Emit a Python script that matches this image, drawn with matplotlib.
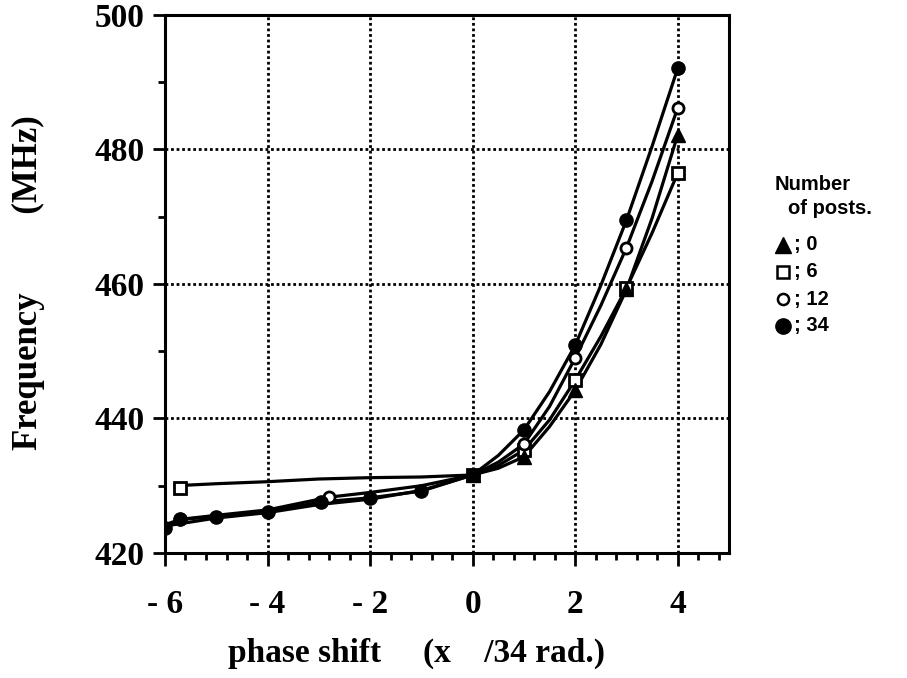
import numpy as np
import matplotlib.pyplot as plt
from matplotlib.ticker import MultipleLocator
from matplotlib.lines import Line2D

#== data ==#
# 34 posts (filled circles)
x_34 = [-6, -5.7, -5, -4, -2.95, -2, -1, 0, 1, 2, 3, 4]
y_34 = [423.7, 425.0, 425.4, 426.1, 427.6, 428.2, 429.2, 431.6, 438.3, 450.9, 469.5, 492.1]
cx_34 = [-6, -5.7, -5, -4, -2.95, -2, -1, 0, 0.5, 1, 1.5, 2, 2.5, 3, 3.5, 4]
cy_34 = [423.7, 425.0, 425.4, 426.1, 427.6, 428.2, 429.2, 431.6, 434.5, 438.3, 444.0, 450.9, 459.8, 469.5, 480.5, 492.1]

# 12 posts (open circles)
x_12 = [-5.7, -2.8, 0, 1, 2, 3, 4]
y_12 = [425.0, 428.3, 431.6, 436.2, 449.0, 465.4, 486.2]
cx_12 = [-6, -5.7, -5, -4, -2.8, -2, -1, 0, 0.5, 1, 1.5, 2, 2.5, 3, 3.5, 4]
cy_12 = [424.2, 425.0, 425.6, 426.4, 428.3, 429.0, 430.0, 431.6, 433.5, 436.2, 441.8, 449.0, 456.8, 465.4, 475.3, 486.2]

# 0 posts (filled triangles)
x_0 = [0, 1, 2, 3, 4]
y_0 = [431.6, 434.3, 444.2, 459.2, 482.2]
cx_0 = [-6, -5, -4, -3, -2, -1, 0, 0.5, 1, 1.5, 2, 2.5, 3, 3.5, 4]
cy_0 = [424.0, 425.2, 426.0, 427.2, 428.0, 429.3, 431.6, 432.6, 434.3, 438.8, 444.2, 451.0, 459.2, 469.8, 482.2]

# 6 posts (open squares)
x_6 = [-5.7, 0, 1, 2, 3, 4]
y_6 = [429.7, 431.6, 435.3, 445.7, 459.4, 476.5]
cx_6 = [-5.8, -5, -4, -3, -2, -1, 0, 0.5, 1, 1.5, 2, 2.5, 3, 3.5, 4]
cy_6 = [430.0, 430.3, 430.6, 431.0, 431.2, 431.3, 431.6, 433.0, 435.3, 439.8, 445.7, 452.2, 459.4, 467.6, 476.5]

xticks = [-6, -4, -2, 0, 2, 4]
xticklabels = ['- 6', '- 4', '- 2', '0', '2', '4']
yticks = [420, 440, 460, 480, 500]

legend_labels = ['; 0', '; 6', '; 12', '; 34']

serif = ['Liberation Serif', 'DejaVu Serif']
sans = ['Liberation Sans', 'DejaVu Sans']

fig = plt.figure(figsize=(9.07, 6.78), dpi=100)
ax = fig.add_axes([0.1819, 0.1844, 0.6219, 0.7935])

lw = 2.3
ax.plot(cx_34, cy_34, color='black', lw=lw, zorder=3)
ax.plot(cx_12, cy_12, color='black', lw=lw, zorder=3)
ax.plot(cx_0, cy_0, color='black', lw=lw, zorder=3)
ax.plot(cx_6, cy_6, color='black', lw=lw, zorder=3)

sty_6 = dict(marker='s', ms=8, mfc='white', mec='black', mew=2)
sty_0 = dict(marker='^', ms=10, mfc='black', mec='black')
sty_12 = dict(marker='o', ms=8, mfc='white', mec='black', mew=2)
sty_34 = dict(marker='o', ms=9.5, mfc='black', mec='black')

ax.plot(x_6, y_6, ls='none', zorder=4, **sty_6)
ax.plot(x_0, y_0, ls='none', zorder=5, **sty_0)
ax.plot(x_12, y_12, ls='none', zorder=6, **sty_12)
ax.plot(x_34, y_34, ls='none', zorder=7, **sty_34)

ax.set_xlim(-6, 5)
ax.set_ylim(420, 500)
ax.set_xticks(xticks)
ax.set_xticklabels(xticklabels)
ax.set_yticks(yticks)
ax.xaxis.set_minor_locator(MultipleLocator(0.4))
ax.yaxis.set_minor_locator(MultipleLocator(10))

ax.grid(True, which='major', color='black', ls=(0, (1, 1)), lw=2)
ax.set_axisbelow(True)
for s in ax.spines.values():
    s.set_linewidth(2.2)

ax.tick_params(which='major', direction='out', length=9, width=2)
ax.tick_params(which='minor', direction='out', length=5, width=2)
ax.tick_params(axis='x', which='major', pad=17)
ax.tick_params(axis='y', which='major', pad=6)
for lab in ax.get_xticklabels() + ax.get_yticklabels():
    lab.set_family(serif)
    lab.set_fontweight('bold')
    lab.set_fontsize(24)

fig.text(417 / 907, 1 - 653 / 678, 'phase shift     (x    /34 rad.)', family=serif,
         fontweight='bold', fontsize=24, ha='center', va='center')
fig.text(28 / 907, 1 - 283 / 678, 'Frequency         (MHz)', family=serif,
         fontweight='bold', fontsize=25, ha='center', va='center', rotation=90)

#== legend ==#
fig.text(775 / 907, 1 - 185 / 678, 'Number', family=sans, fontweight='bold',
         fontsize=14.5, ha='left', va='center')
fig.text(788 / 907, 1 - 208 / 678, 'of posts.', family=sans, fontweight='bold',
         fontsize=14.5, ha='left', va='center')
leg_styles = [dict(sty_0, ms=11), dict(sty_6, ms=9, mew=1.8),
              dict(sty_12, ms=8, mew=1.8), dict(sty_34, ms=11)]
for i, (t, st) in enumerate(zip(legend_labels, leg_styles)):
    yy = 1 - (245 + 27 * i) / 678
    fig.add_artist(Line2D([783 / 907], [yy], ls='none', transform=fig.transFigure, **st))
    fig.text(794 / 907, yy, t, family=sans, fontweight='bold',
             fontsize=14.5, ha='left', va='center')

plt.savefig('out.png', dpi=100)
